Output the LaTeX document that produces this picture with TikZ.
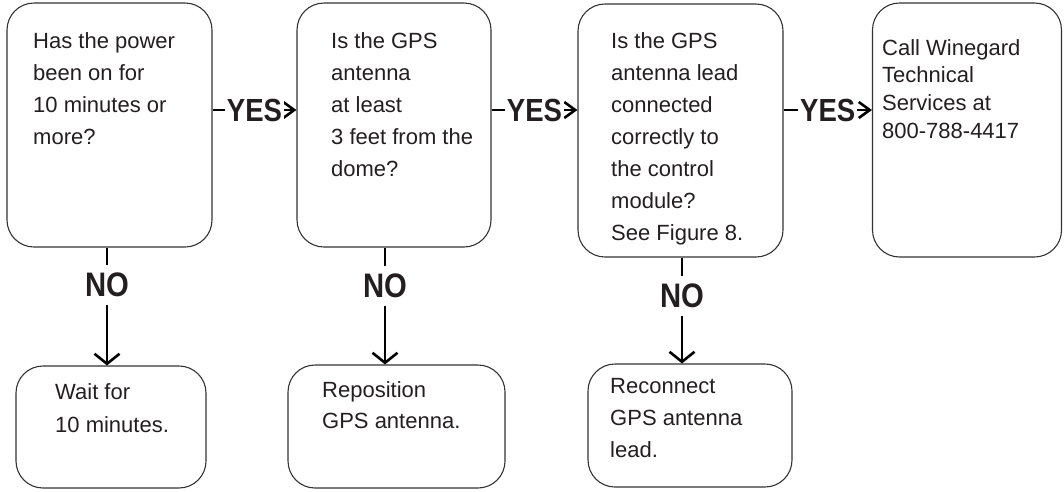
\documentclass[tikz,border=0pt]{standalone}
\usepackage{fontspec}
\setmainfont{Liberation Sans}
\newfontfamily\lblfont{Liberation Sans Bold}[FakeStretch=0.86]
\usetikzlibrary{arrows.meta}
\definecolor{ink}{HTML}{231F20}
\definecolor{frame}{HTML}{333333}
\tikzset{
  box/.style={draw=frame, line width=1.1pt, rounded corners=27pt, inner sep=0pt},
  txt/.style={anchor=north west, inner sep=0pt, align=left, text=ink,
              font=\fontsize{22}{32}\selectfont},
  yesline/.style={draw=black, line width=2.6pt,
                  -{Straight Barb[length=11pt, width=16pt, line width=2.6pt]}},
  noline/.style={draw=black, line width=2.6pt,
                 -{Straight Barb[length=10pt, width=25pt, line width=2.6pt]}},
  lbl/.style={fill=white, text=ink, inner xsep=2pt, inner ysep=0pt},
  yeslbl/.style={lbl, font=\lblfont\fontsize{32}{32}\selectfont},
  nolbl/.style={lbl, inner ysep=8pt, font=\lblfont\fontsize{34}{34}\selectfont},
}
\begin{document}
\begin{tikzpicture}[x=1pt, y=-1pt]
\useasboundingbox (0,0) rectangle (1064,491);

% question boxes
\node[box, minimum width=205pt, minimum height=244pt] (q1) at (109.5,125) {};
\node[box, minimum width=194pt, minimum height=244pt] (q2) at (394,125) {};
\node[box, minimum width=205pt, minimum height=253pt] (q3) at (680.5,130.5) {};
\node[box, minimum width=189pt, minimum height=254pt] (q4) at (967,130) {};

% action boxes
\node[box, minimum width=190pt, minimum height=122pt] (a1) at (111,427) {};
\node[box, minimum width=217pt, minimum height=123pt] (a2) at (396.5,426.5) {};
\node[box, minimum width=204pt, minimum height=123pt] (a3) at (690,425.5) {};

% box texts
\node[txt] (q1t) at (33,32) {Has the power\\been on for\\10 minutes or\\more?};
\node[txt] (q2t) at (331,32) {Is the GPS\\antenna\\at least\\3 feet from the\\dome?};
\node[txt] (q3t) at (611,32) {Is the GPS\\antenna lead\\connected\\correctly to\\the control\\module?\\See Figure 8.};
\node[txt, font=\fontsize{22}{27.7}\selectfont] (q4t) at (882,39) {Call Winegard\\Technical\\Services at\\800-788-4417};
\node[txt, font=\fontsize{22}{33}\selectfont] (a1t) at (55,383) {Wait for\\10 minutes.};
\node[txt, font=\fontsize{22}{31}\selectfont] (a2t) at (322,381) {Reposition\\GPS antenna.};
\node[txt, font=\fontsize{22}{32}\selectfont] (a3t) at (610,378) {Reconnect\\GPS antenna\\lead.};

% YES connectors
\coordinate (yrow) at (0,110);
\draw[yesline] (q1.east |- yrow) -- node[yeslbl] {YES} (q2.west |- yrow);
\draw[yesline] (q2.east |- yrow) -- node[yeslbl] {YES} (q3.west |- yrow);
\draw[yesline] (q3.east |- yrow) -- node[yeslbl] {YES} (q4.west |- yrow);

% NO connectors
\draw[noline] ([xshift=-2.5pt]q1.south) -- node[nolbl, pos=0.32] {NO} ([xshift=-2.5pt]q1.south |- a1.north);
\draw[noline] ([xshift=-9pt]q2.south) -- node[nolbl, pos=0.33] {NO} ([xshift=-9pt]q2.south |- a2.north);
\draw[noline] ([xshift=1.5pt]q3.south) -- node[nolbl, pos=0.36] {NO} ([xshift=1.5pt]q3.south |- a3.north);
\end{tikzpicture}
\end{document}
